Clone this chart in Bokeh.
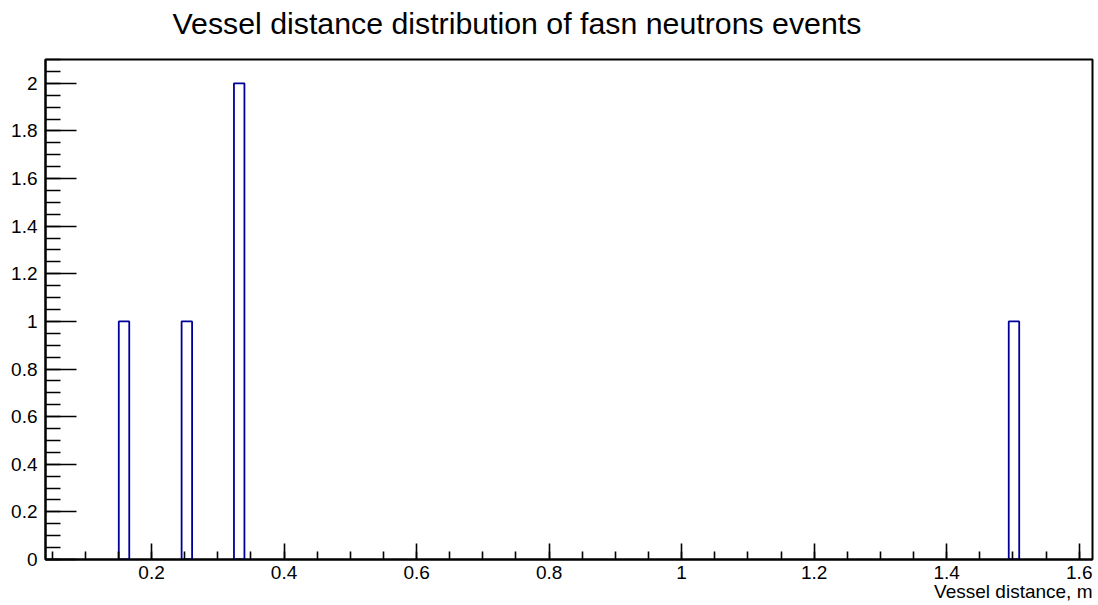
from bokeh.plotting import figure
from bokeh.models import (Range1d, SingleIntervalTicker, CustomJSTickFormatter, Title)
from bokeh.embed import file_html
from bokeh.resources import INLINE

# ---- data ----
x_min, x_max = 0.04, 1.62          # histogram axis range
y_min, y_max = 0.0, 2.1
bin_width = 0.0158                 # 100 bins over [0.04, 1.62]
bin_left = [0.1506, 0.2454, 0.3244, 1.4936]
counts = [1, 1, 2, 1]

title_text = "Vessel distance distribution of fasn neutrons events"
x_title = "Vessel distance, m"

FONT = "Liberation Sans"

p = figure(width=1098, height=605, output_backend="svg", toolbar_location=None,
           x_range=Range1d(x_min, x_max), y_range=Range1d(y_min, y_max),
           min_border_left=45, min_border_right=6, min_border_top=59, min_border_bottom=46)
p.title.visible = False
p.grid.visible = False
p.background_fill_color = "white"
p.border_fill_color = "white"
p.outline_line_color = "black"
p.outline_line_width = 2

bin_right = [b + bin_width for b in bin_left]
p.quad(left=bin_left, right=bin_right, bottom=[0] * len(counts), top=counts,
       fill_color=None, line_color="#000099", line_width=1.8)

fmt = CustomJSTickFormatter(code="""
    var s = tick.toFixed(1);
    if (s.endsWith('.0')) { s = s.slice(0, -2); }
    return s;
""")

xa = p.xaxis[0]
xa.ticker = SingleIntervalTicker(interval=0.2, num_minor_ticks=4)
xa.formatter = fmt
xa.major_tick_in = 16
xa.major_tick_out = 0
xa.minor_tick_in = 8
xa.minor_tick_out = 0
xa.axis_line_width = 2
xa.major_tick_line_width = 1.6
xa.minor_tick_line_width = 1.6
xa.major_label_text_font = FONT
xa.major_label_text_font_size = "19px"
xa.major_label_text_color = "black"
xa.major_label_standoff = 6

ya = p.yaxis[0]
ya.ticker = SingleIntervalTicker(interval=0.2, num_minor_ticks=4)
ya.formatter = fmt
ya.major_tick_in = 31
ya.major_tick_out = 0
ya.minor_tick_in = 15
ya.minor_tick_out = 0
ya.axis_line_width = 2
ya.major_tick_line_width = 1.6
ya.minor_tick_line_width = 1.6
ya.major_label_text_font = FONT
ya.major_label_text_font_size = "19px"
ya.major_label_text_color = "black"
ya.major_label_standoff = 8

p.add_layout(Title(text=title_text, align="left", offset=127, standoff=4,
                   vertical_align="top",
                   padding=dict(left=0, right=0, top=0, bottom=16),
                   text_font=FONT, text_font_size="30.3px", text_font_style="normal",
                   text_color="black"), "above")
p.add_layout(Title(text=x_title, align="right", standoff=-6,
                   text_font=FONT, text_font_size="19px", text_font_style="normal",
                   text_color="black"), "below")

open("out.html", "w").write(file_html(p, INLINE))
